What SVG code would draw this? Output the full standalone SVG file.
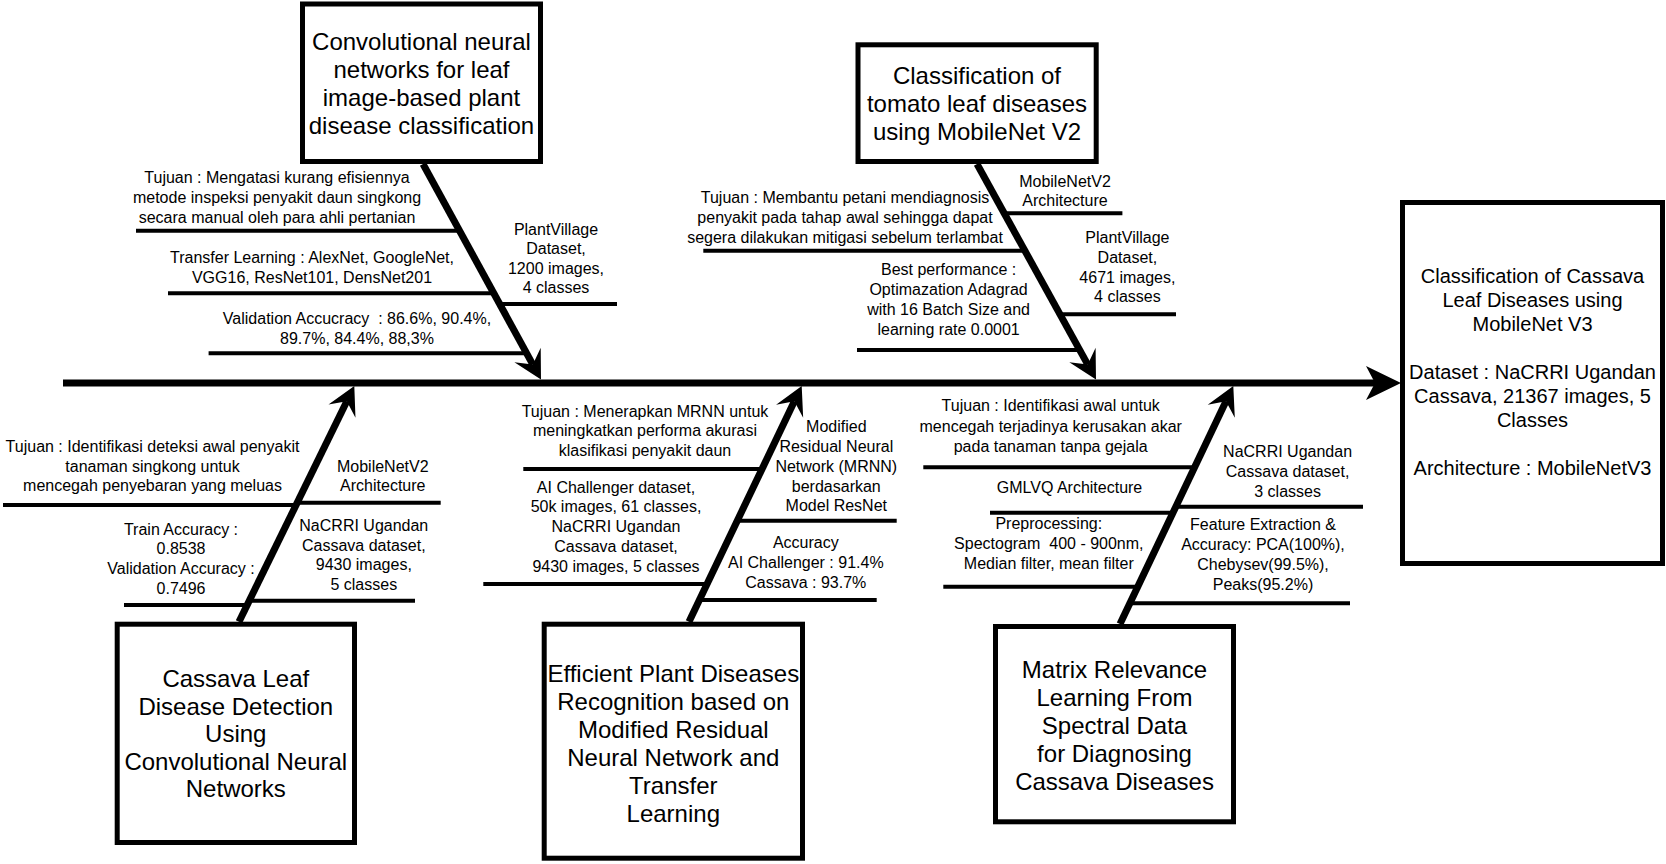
<svg xmlns="http://www.w3.org/2000/svg" width="1666" height="864" viewBox="0 0 1666 864">
<style>
text{font-family:"Liberation Sans",Arial,Helvetica,sans-serif;fill:#000;text-anchor:middle;white-space:pre}
.s{font-size:16px}
.b{font-size:24px}
.m{font-size:20px}
.box{fill:#fff;stroke:#000;stroke-width:5}
.spine{stroke:#000;stroke-width:7;fill:none}
.bone{stroke:#000;stroke-width:7;fill:none}
.sub{stroke:#000;stroke-width:4;fill:none}
</style>
<defs>
<marker id="arrB" markerUnits="userSpaceOnUse" viewBox="-30 -16 32 32" markerWidth="32" markerHeight="32" refX="-17" refY="0" orient="auto" overflow="visible">
<path d="M0,0 L-28,-15 L-17,0 L-28,15 Z" fill="#000"/>
</marker>
<marker id="arrS" markerUnits="userSpaceOnUse" viewBox="-37 -18 40 36" markerWidth="40" markerHeight="36" refX="-26" refY="0" orient="auto" overflow="visible">
<path d="M0,0 L-35,-17 L-26,0 L-35,17 Z" fill="#000"/>
</marker>
</defs>
<rect width="1666" height="864" fill="#fff"/>

<g id="connectors">
<line class="spine" x1="63" y1="383" x2="1375" y2="383" marker-end="url(#arrS)"/>
<line class="bone" x1="423" y1="164" x2="532.83" y2="364.59" marker-end="url(#arrB)"/>
<line class="bone" x1="977" y1="164" x2="1087.78" y2="364.62" marker-end="url(#arrB)"/>
<line class="bone" x1="239" y1="621.7" x2="346.83" y2="401.27" marker-end="url(#arrB)"/>
<line class="bone" x1="689" y1="621.7" x2="794.37" y2="401.34" marker-end="url(#arrB)"/>
<line class="bone" x1="1120" y1="624" x2="1225.99" y2="401.35" marker-end="url(#arrB)"/>
<!-- bone A sub-lines -->
<line class="sub" x1="136" y1="230.7" x2="461" y2="230.7"/>
<line class="sub" x1="168" y1="293.3" x2="496" y2="293.3"/>
<line class="sub" x1="208.6" y1="353.3" x2="527" y2="353.3"/>
<line class="sub" x1="499" y1="304" x2="617" y2="304"/>
<!-- bone B sub-lines -->
<line class="sub" x1="1004" y1="213.3" x2="1122.4" y2="213.3"/>
<line class="sub" x1="703.3" y1="250.7" x2="1024" y2="250.7"/>
<line class="sub" x1="857" y1="350" x2="1080" y2="350"/>
<line class="sub" x1="1059" y1="314.3" x2="1176" y2="314.3"/>
<!-- bone C sub-lines -->
<line class="sub" x1="3" y1="505" x2="296" y2="505"/>
<line class="sub" x1="297" y1="502.7" x2="440.7" y2="502.7"/>
<line class="sub" x1="124" y1="605" x2="247" y2="605"/>
<line class="sub" x1="249.5" y1="600.7" x2="415" y2="600.7"/>
<!-- bone D sub-lines -->
<line class="sub" x1="523.3" y1="469" x2="762" y2="469"/>
<line class="sub" x1="737.3" y1="520.7" x2="896.7" y2="520.7"/>
<line class="sub" x1="483.3" y1="584" x2="707" y2="584"/>
<line class="sub" x1="699" y1="600" x2="876.7" y2="600"/>
<!-- bone E sub-lines -->
<line class="sub" x1="923.3" y1="467.3" x2="1194.6" y2="467.3"/>
<line class="sub" x1="990" y1="512.7" x2="1173" y2="512.7"/>
<line class="sub" x1="943.3" y1="586.7" x2="1138" y2="586.7"/>
<line class="sub" x1="1175.8" y1="506.7" x2="1363" y2="506.7"/>
<line class="sub" x1="1130" y1="603.3" x2="1350" y2="603.3"/>
</g>

<g id="node-cnn-leaf">
<rect class="box" x="302.5" y="4" width="238" height="157.5"/>
<text class="b" x="421.5" y="50">Convolutional neural</text>
<text class="b" x="421.5" y="78">networks for leaf</text>
<text class="b" x="421.5" y="106">image-based plant</text>
<text class="b" x="421.5" y="134">disease classification</text>
</g>

<g id="node-tomato">
<rect class="box" x="858" y="44.8" width="238.2" height="116.7"/>
<text class="b" x="977" y="83.5">Classification of</text>
<text class="b" x="977" y="111.5">tomato leaf diseases</text>
<text class="b" x="977" y="139.5">using MobileNet V2</text>
</g>

<g id="node-cassava-cnn">
<rect class="box" x="117.2" y="624.2" width="237.3" height="218.3"/>
<text class="b" x="235.8" y="687">Cassava Leaf</text>
<text class="b" x="235.8" y="714.6">Disease Detection</text>
<text class="b" x="235.8" y="742.2">Using</text>
<text class="b" x="235.8" y="769.8">Convolutional Neural</text>
<text class="b" x="235.8" y="797.4">Networks</text>
</g>

<g id="node-mrnn">
<rect class="box" x="544.2" y="624.2" width="258.3" height="234"/>
<text class="b" x="673.3" y="681.7">Efficient Plant Diseases</text>
<text class="b" x="673.3" y="709.7">Recognition based on</text>
<text class="b" x="673.3" y="737.7">Modified Residual</text>
<text class="b" x="673.3" y="765.7">Neural Network and</text>
<text class="b" x="673.3" y="793.7">Transfer</text>
<text class="b" x="673.3" y="821.7">Learning</text>
</g>

<g id="node-matrix">
<rect class="box" x="995.5" y="626.5" width="238" height="195.3"/>
<text class="b" x="1114.5" y="677.7">Matrix Relevance</text>
<text class="b" x="1114.5" y="706">Learning From</text>
<text class="b" x="1114.5" y="734">Spectral Data</text>
<text class="b" x="1114.5" y="762.3">for Diagnosing</text>
<text class="b" x="1114.5" y="790">Cassava Diseases</text>
</g>

<g id="node-head">
<rect class="box" x="1402.5" y="202.5" width="260" height="361"/>
<text class="m" x="1532.5" y="282.5">Classification of Cassava</text>
<text class="m" x="1532.5" y="306.5">Leaf Diseases using</text>
<text class="m" x="1532.5" y="330.5">MobileNet V3</text>
<text class="m" x="1532.5" y="378.5">Dataset : NaCRRI Ugandan</text>
<text class="m" x="1532.5" y="402.5">Cassava, 21367 images, 5</text>
<text class="m" x="1532.5" y="426.5">Classes</text>
<text class="m" x="1532.5" y="474.5">Architecture : MobileNetV3</text>
</g>

<g id="labels-cnn-leaf">
<text class="s" x="277" y="182.7">Tujuan : Mengatasi kurang efisiennya</text>
<text class="s" x="277" y="202.7">metode inspeksi penyakit daun singkong</text>
<text class="s" x="277" y="222.7">secara manual oleh para ahli pertanian</text>
<text class="s" x="312" y="263.3">Transfer Learning : AlexNet, GoogleNet,</text>
<text class="s" x="312" y="283.3">VGG16, ResNet101, DensNet201</text>
<text class="s" x="357" y="324">Validation Accucracy  : 86.6%, 90.4%,</text>
<text class="s" x="357" y="343.5">89.7%, 84.4%, 88,3%</text>
<text class="s" x="556" y="235">PlantVillage</text>
<text class="s" x="556" y="254.3">Dataset,</text>
<text class="s" x="556" y="273.5">1200 images,</text>
<text class="s" x="556" y="293">4 classes</text>
</g>

<g id="labels-tomato">
<text class="s" x="1065" y="186.7">MobileNetV2</text>
<text class="s" x="1065" y="206">Architecture</text>
<text class="s" x="845" y="202.7">Tujuan : Membantu petani mendiagnosis</text>
<text class="s" x="845" y="222.7">penyakit pada tahap awal sehingga dapat</text>
<text class="s" x="845" y="242.7">segera dilakukan mitigasi sebelum terlambat</text>
<text class="s" x="948.6" y="275">Best performance :</text>
<text class="s" x="948.6" y="295">Optimazation Adagrad</text>
<text class="s" x="948.6" y="315">with 16 Batch Size and</text>
<text class="s" x="948.6" y="335">learning rate 0.0001</text>
<text class="s" x="1127.4" y="243.3">PlantVillage</text>
<text class="s" x="1127.4" y="263.3">Dataset,</text>
<text class="s" x="1127.4" y="282.7">4671 images,</text>
<text class="s" x="1127.4" y="302">4 classes</text>
</g>

<g id="labels-cassava-cnn">
<text class="s" x="152.5" y="451.7">Tujuan : Identifikasi deteksi awal penyakit</text>
<text class="s" x="152.5" y="471.7">tanaman singkong untuk</text>
<text class="s" x="152.5" y="490.7">mencegah penyebaran yang meluas</text>
<text class="s" x="382.8" y="471.7">MobileNetV2</text>
<text class="s" x="382.8" y="491">Architecture</text>
<text class="s" x="181" y="535">Train Accuracy :</text>
<text class="s" x="181" y="554.3">0.8538</text>
<text class="s" x="181" y="574">Validation Accuracy :</text>
<text class="s" x="181" y="594">0.7496</text>
<text class="s" x="363.8" y="530.7">NaCRRI Ugandan</text>
<text class="s" x="363.8" y="550.7">Cassava dataset,</text>
<text class="s" x="363.8" y="570">9430 images,</text>
<text class="s" x="363.8" y="590">5 classes</text>
</g>

<g id="labels-mrnn">
<text class="s" x="645" y="416.7">Tujuan : Menerapkan MRNN untuk</text>
<text class="s" x="645" y="436">meningkatkan performa akurasi</text>
<text class="s" x="645" y="456">klasifikasi penyakit daun</text>
<text class="s" x="836.3" y="431.7">Modified</text>
<text class="s" x="836.3" y="451.7">Residual Neural</text>
<text class="s" x="836.3" y="471.7">Network (MRNN)</text>
<text class="s" x="836.3" y="491.7">berdasarkan</text>
<text class="s" x="836.3" y="511">Model ResNet</text>
<text class="s" x="616" y="492.7">AI Challenger dataset,</text>
<text class="s" x="616" y="511.7">50k images, 61 classes,</text>
<text class="s" x="616" y="531.7">NaCRRI Ugandan</text>
<text class="s" x="616" y="551.7">Cassava dataset,</text>
<text class="s" x="616" y="571.7">9430 images, 5 classes</text>
<text class="s" x="805.8" y="548.3">Accuracy</text>
<text class="s" x="805.8" y="568.3">AI Challenger : 91.4%</text>
<text class="s" x="805.8" y="588.3">Cassava : 93.7%</text>
</g>

<g id="labels-matrix">
<text class="s" x="1050.7" y="410.7">Tujuan : Identifikasi awal untuk</text>
<text class="s" x="1050.7" y="431.7">mencegah terjadinya kerusakan akar</text>
<text class="s" x="1050.7" y="451.7">pada tanaman tanpa gejala</text>
<text class="s" x="1069.5" y="492.7">GMLVQ Architecture</text>
<text class="s" x="1048.8" y="529.3">Preprocessing:</text>
<text class="s" x="1048.8" y="549.3">Spectogram  400 - 900nm,</text>
<text class="s" x="1048.8" y="569.3">Median filter, mean filter</text>
<text class="s" x="1287.6" y="456.7">NaCRRI Ugandan</text>
<text class="s" x="1287.6" y="477">Cassava dataset,</text>
<text class="s" x="1287.6" y="496.7">3 classes</text>
<text class="s" x="1263" y="530">Feature Extraction &amp;</text>
<text class="s" x="1263" y="550">Accuracy: PCA(100%),</text>
<text class="s" x="1263" y="569.5">Chebysev(99.5%),</text>
<text class="s" x="1263" y="589.5">Peaks(95.2%)</text>
</g>
</svg>
